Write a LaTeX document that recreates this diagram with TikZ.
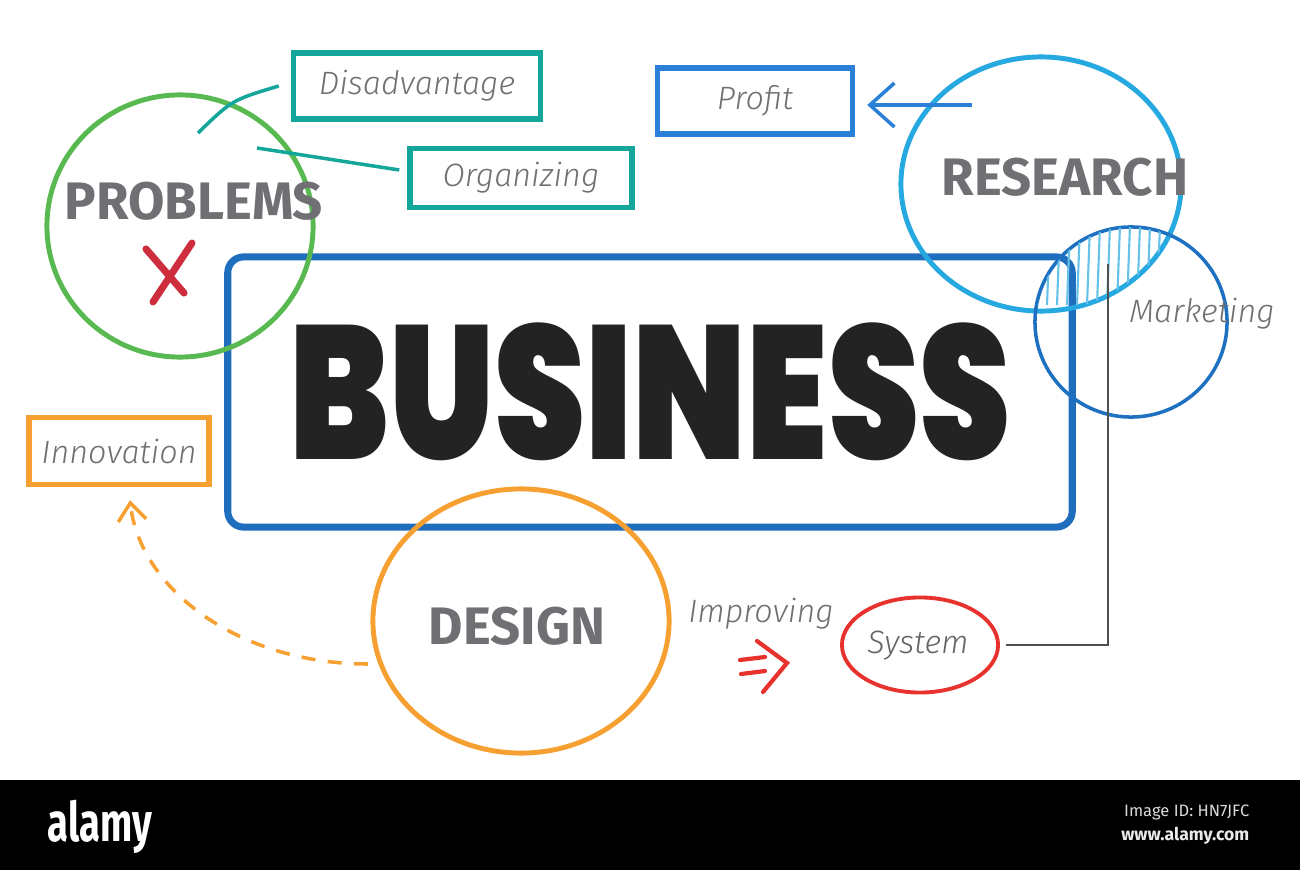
\documentclass[tikz,border=0pt]{standalone}
\usepackage{fontspec}
\usetikzlibrary{arrows.meta,calc,shapes.geometric}
\setmainfont{Fira Sans}
\newfontfamily\handfont{Fira Sans Light Italic}
\newfontfamily\capsfont{Fira Sans Bold}
\newfontfamily\bizfont{Poppins Black}

\definecolor{txtgrey}{RGB}{112,112,116}
\definecolor{probgreen}{RGB}{88,185,80}
\definecolor{tealc}{RGB}{20,166,154}
\definecolor{profitblue}{RGB}{42,128,214}
\definecolor{resblue}{RGB}{38,168,224}
\definecolor{mktblue}{RGB}{30,112,192}
\definecolor{bizblue}{RGB}{31,110,190}
\definecolor{dorange}{RGB}{247,160,50}
\definecolor{sysred}{RGB}{232,50,45}
\definecolor{xred}{RGB}{205,45,60}
\definecolor{linegrey}{RGB}{80,80,80}
\definecolor{bizblack}{RGB}{35,35,35}

\begin{document}
\begin{tikzpicture}[x=0.01cm, y=-0.01cm,
    box/.style={draw, line width=1.5pt, inner sep=0pt, text=txtgrey,
      font=\handfont\fontsize{9.2}{11}\selectfont},
    ring/.style={draw, ellipse, line width=1.4pt, inner sep=0pt},
    bigword/.style={text=txtgrey, font=\capsfont\fontsize{15}{18}\selectfont},
    hand/.style={text=txtgrey, font=\handfont\fontsize{9.2}{11}\selectfont}]

  \useasboundingbox (0,0) rectangle (1300,870);

  % the main box
  \node[draw=bizblue, line width=2pt, rounded corners=4.5pt, inner sep=0pt,
    minimum width=8.44cm, minimum height=2.7cm] (biz) at (650,392)
    {\bizfont\fontsize{54}{54}\selectfont\color{bizblack}\scalebox{0.77}[1]{BUSINESS}};

  % problems
  \node[ring, draw=probgreen, minimum width=2.66cm, minimum height=2.62cm] (problems) at (180,226) {};
  \node[bigword] (problemstxt) at (194,201) {PROBLEMS};
  \draw[xred, line width=2pt, line cap=round] (146,249) -- (184,293) (192,243) -- (153,302);

  \node[box, draw=tealc, minimum width=2.47cm, minimum height=0.66cm] (disadv) at (417,86) {Disadvantage};
  \node[box, draw=tealc, minimum width=2.22cm, minimum height=0.59cm] (organiz) at (521,178) {Organizing};
  \coordinate (probin1) at (198,133);
  \coordinate (probin2) at (257,148);
  \draw[tealc, line width=1pt] (probin1) .. controls (232,100) .. ($(disadv.west)+(-12,0)$);
  \draw[tealc, line width=1pt] (probin2) -- ($(organiz.west)+(-8,-8)$);

  % research and marketing
  \node[ring, draw=resblue, minimum width=2.8cm, minimum height=2.54cm] (research) at (1041,184) {};
  \node[bigword] (researchtxt) at (1065,177) {RESEARCH};
  \node[ring, draw=mktblue, line width=1pt, minimum width=1.92cm, minimum height=1.9cm] (mkt) at (1131,322) {};
  \node[hand] (mkttxt) at (1202,314) {Marketing};
  \begin{scope}
    \clip (research.center) ellipse [x radius=140, y radius=127];
    \clip (mkt.center) circle [radius=95];
    \foreach \hx in {1040,1050,...,1180}
      \draw[resblue!70, line width=0.6pt] (\hx,225) -- (\hx-3,305);
  \end{scope}

  \node[box, draw=profitblue, minimum width=1.95cm, minimum height=0.66cm] (profit) at (755,101) {Profit\hspace{0.2cm}};
  \coordinate (resout) at (972,105);
  \draw[profitblue, line width=1pt, -{Straight Barb[length=7pt,width=12.5pt]}]
    (resout) -- ($(profit.east)+(12,4)$);

  % design
  \node[ring, draw=dorange, minimum width=2.96cm, minimum height=2.64cm] (design) at (521,621) {};
  \node[bigword] (designtxt) at (517,626) {DESIGN};
  \node[box, draw=dorange, minimum width=1.8cm, minimum height=0.67cm] (innov) at (119,451) {Innovation};
  \coordinate (desout) at (368,664);
  \draw[dorange, line width=1pt, dash pattern=on 4pt off 3.5pt, -{Straight Barb[length=5pt,width=8pt]}]
    (desout) .. controls (240,664) and (140,590) .. ($(innov.south)+(11,13)$);

  % system
  \node[hand] (improving) at (761,614) {Improving};
  \draw[sysred, line width=1.2pt, line cap=round]
    (740,660) -- (765,657) (741,674) -- (765,671) (757,641) -- (787,663) -- (763,692);
  \node[ring, draw=sysred, line width=1.1pt, minimum width=1.56cm, minimum height=0.95cm] (system) at (920,645) {};
  \node[hand, text=txtgrey!90!black] (systemtxt) at (918,646) {System};
  \coordinate (mkttop) at (1108,264);
  \draw[linegrey, line width=0.7pt] ($(system.east)+(6,0)$) -| (mkttop);

  % bottom strip
  \fill[black] (0,780) rectangle (1300,870);
  \node[text=white, inner sep=0pt, font=\capsfont\fontsize{15.5}{16}\selectfont] (logo) at (100,827) {\scalebox{0.7}[1]{alamy}};
  \node[anchor=east, inner sep=0pt, text=white!85!black, font=\fontsize{4.7}{6}\selectfont] (imgid) at (1250,812) {Image ID: HN7JFC};
  \node[anchor=east, inner sep=0pt, text=white!92!black, font=\capsfont\fontsize{5}{6}\selectfont] (site) at (1250,836) {www.alamy.com};
\end{tikzpicture}
\end{document}
